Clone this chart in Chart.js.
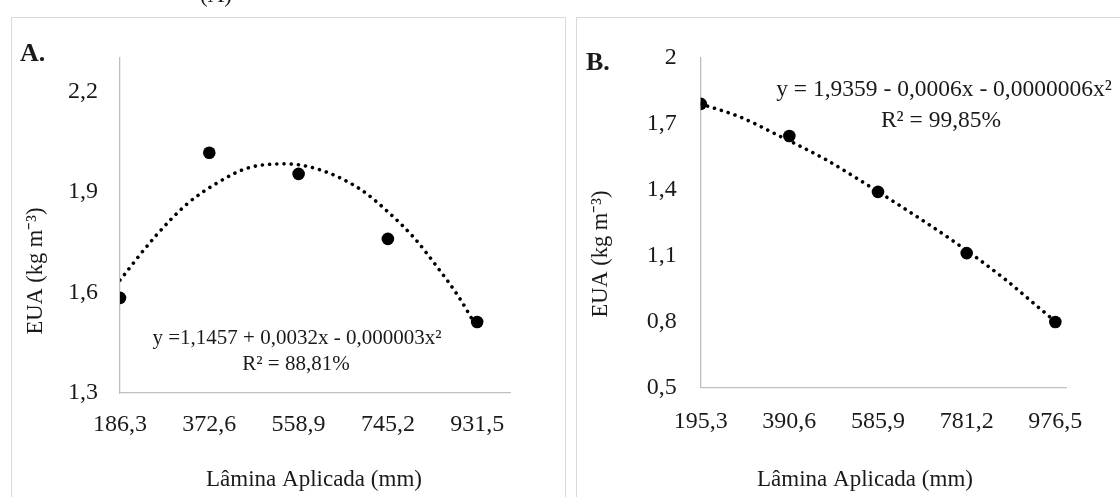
<!DOCTYPE html>
<html lang="pt">

<head>
    <meta charset="UTF-8">
    <title>EUA x Lâmina Aplicada</title>
    <style>
        body {
            margin: 0;
            background-color: #fff;
            width: 1120px;
            height: 497px;
            overflow: hidden;
            position: relative;
        }

        .panel {
            position: absolute;
            top: 17px;
            height: 500px;
            border: 1.5px solid #d9d9d9;
            border-bottom: none;
        }

        canvas {
            position: absolute;
            top: 0;
        }
    </style>
</head>

<body>
    <div class="panel" style="left: 11px; width: 553px;"></div>
    <div class="panel" style="left: 576px; width: 560px;"></div>
    <canvas id="chart-a" width="565" height="497" style="left: 0;"></canvas>
    <canvas id="chart-b" width="555" height="497" style="left: 565px;"></canvas>
    <script src="https://cdn.jsdelivr.net/npm/chart.js"></script>
    <script>
    // Painel A
    const laminaA = [186.3, 372.6, 558.9, 745.2, 931.5];
    const euaA = [1.584, 2.017, 1.954, 1.760, 1.512];
    const yTicksA = [1.3, 1.6, 1.9, 2.2];
    const trendXA = [186.3, 259, 326, 389, 454, 531, 604, 687, 746, 800, 848, 893, 931.5];
    const trendYA = [1.637, 1.766, 1.864, 1.927, 1.972, 1.984, 1.966, 1.909, 1.840, 1.763, 1.676, 1.587, 1.494];

    // Painel B
    const laminaB = [195.3, 390.6, 585.9, 781.2, 976.5];
    const euaB = [1.789, 1.643, 1.389, 1.111, 0.798];
    const yTicksB = [0.5, 0.8, 1.1, 1.4, 1.7, 2];
    const trendXB = [195.3, 281.5, 369.3, 472.5, 538.3, 639.2, 757.7, 867.5, 933.3, 976.5];
    const trendYB = [1.789, 1.730, 1.643, 1.534, 1.452, 1.320, 1.157, 0.989, 0.875, 0.800];

    const serif = '"Liberation Serif", "Times New Roman", serif';
    const textColor = '#1a1a1a';
    const axisColor = '#bfbfbf';

    const comma = v => String(v).replace('.', ',');

    // draws panel letters, equations and axis titles
    const panelText = {
        id: 'panelText',
        afterDraw(chart, args, opts) {
            const ctx = chart.ctx;
            opts.items.forEach(it => {
                ctx.save();
                ctx.font = it.font;
                ctx.fillStyle = textColor;
                ctx.textAlign = it.align || 'center';
                ctx.textBaseline = it.baseline || 'middle';
                ctx.translate(it.x, it.y);
                if (it.rotate) ctx.rotate(it.rotate);
                ctx.fillText(it.text, 0, 0);
                ctx.restore();
            });
        }
    };

    function makeChart(id, cfg) {
        const ctx = document.getElementById(id).getContext('2d');
        return new Chart(ctx, {
            type: 'scatter',
            data: {
                datasets: [
                    {
                        data: cfg.trendX.map((x, i) => ({ x: x, y: cfg.trendY[i] })),
                        showLine: true,
                        borderColor: '#000',
                        borderWidth: 3.6,
                        borderDash: [0.01, 7.2],
                        borderCapStyle: 'round',
                        cubicInterpolationMode: 'monotone',
                        pointRadius: 0,
                    },
                    {
                        data: cfg.x.map((x, i) => ({ x: x, y: cfg.y[i] })),
                        backgroundColor: '#000',
                        borderWidth: 0,
                        pointRadius: 6.3,
                    },
                ],
            },
            options: {
                responsive: false,
                animation: false,
                layout: { padding: cfg.padding },
                plugins: {
                    legend: { display: false },
                    tooltip: { enabled: false },
                    panelText: { items: cfg.texts },
                },
                scales: {
                    x: {
                        type: 'linear',
                        min: cfg.x[0],
                        max: 1000,
                        afterBuildTicks: axis => { axis.ticks = cfg.x.map(v => ({ value: v })); },
                        afterFit: axis => { axis.height = cfg.xHeight; },
                        grid: { display: false, drawTicks: false },
                        border: { color: axisColor, width: 1.3 },
                        ticks: {
                            padding: cfg.xPad,
                            maxRotation: 0,
                            color: textColor,
                            font: { family: serif, size: 24 },
                            callback: comma,
                        },
                    },
                    y: {
                        min: cfg.yTicks[0],
                        max: cfg.yMax,
                        afterBuildTicks: axis => { axis.ticks = cfg.yTicks.map(v => ({ value: v })); },
                        afterFit: axis => { axis.width = cfg.yWidth; },
                        grid: { display: false, drawTicks: false },
                        border: { color: axisColor, width: 1.3 },
                        ticks: {
                            padding: cfg.yPad,
                            color: textColor,
                            font: { family: serif, size: 24 },
                            callback: comma,
                        },
                    },
                },
            },
            plugins: [panelText],
        });
    }

    makeChart('chart-a', {
        x: laminaA, y: euaA, trendX: trendXA, trendY: trendYA,
        yTicks: yTicksA, yMax: 2.3,
        padding: { left: 0, top: 58, right: 55, bottom: 0 },
        yWidth: 120, xHeight: 104, xPad: 17, yPad: 22,
        texts: [
            { text: '(A)', x: 216, y: 2, font: '23px ' + serif, baseline: 'alphabetic' },
            { text: 'A.', x: 20, y: 61, font: 'bold 26px ' + serif, align: 'left', baseline: 'alphabetic' },
            { text: 'y =1,1457 + 0,0032x - 0,000003x²', x: 297, y: 338, font: '21px ' + serif },
            { text: 'R² = 88,81%', x: 296, y: 364, font: '21px ' + serif },
            { text: 'Lâmina Aplicada (mm)', x: 314, y: 480, font: '23px ' + serif },
            { text: 'EUA (kg m⁻³)', x: 36, y: 271, font: '22.5px ' + serif, rotate: -Math.PI / 2 },
        ],
    });

    makeChart('chart-b', {
        x: laminaB, y: euaB, trendX: trendXB, trendY: trendYB,
        yTicks: yTicksB, yMax: 2,
        padding: { left: 0, top: 57.5, right: 54, bottom: 0 },
        yWidth: 135.7, xHeight: 109.5, xPad: 20, yPad: 24,
        texts: [
            { text: 'B.', x: 21, y: 70, font: 'bold 26px ' + serif, align: 'left', baseline: 'alphabetic' },
            { text: 'y = 1,9359 - 0,0006x - 0,0000006x²', x: 379, y: 90, font: '23.5px ' + serif },
            { text: 'R² = 99,85%', x: 376, y: 121, font: '23.5px ' + serif },
            { text: 'Lâmina Aplicada (mm)', x: 300, y: 480, font: '23px ' + serif },
            { text: 'EUA (kg m⁻³)', x: 36, y: 254, font: '22.5px ' + serif, rotate: -Math.PI / 2 },
        ],
    });
    </script>
</body>

</html>
